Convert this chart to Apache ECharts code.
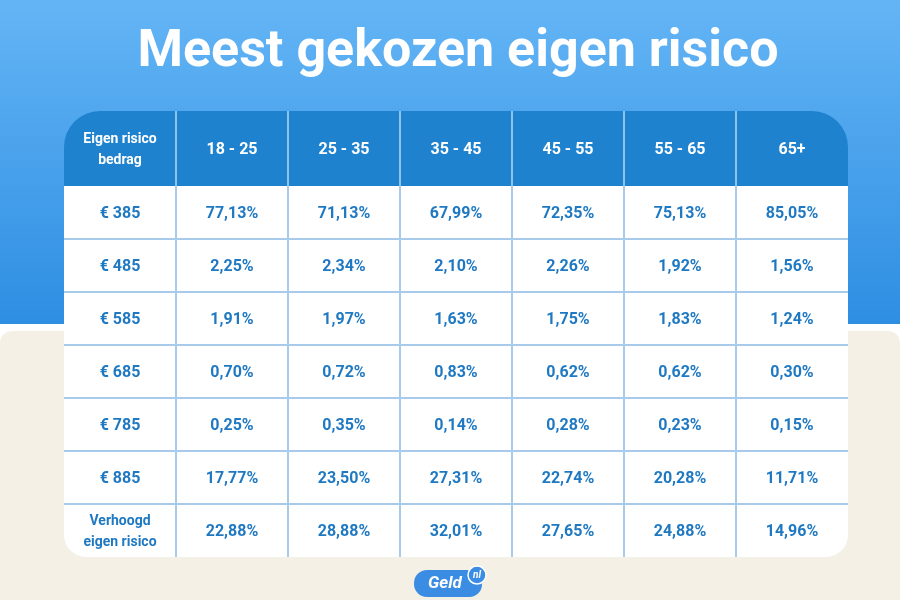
<!DOCTYPE html>
<html><head><meta charset="utf-8">
<script src="https://cdn.jsdelivr.net/npm/echarts@6/dist/echarts.min.js"></script>
<style>html,body{margin:0;padding:0;background:#fff}#c{width:900px;height:600px}</style>
</head><body><div id="c"></div>
<script>
const title = 'Meest gekozen eigen risico';
const cornerHeader = 'Eigen risico\nbedrag';
const ageGroups = ['18 - 25', '25 - 35', '35 - 45', '45 - 55', '55 - 65', '65+'];
const rowLabels = ['€ 385', '€ 485', '€ 585', '€ 685', '€ 785', '€ 885', 'Verhoogd\neigen risico'];
const v18_25 = [77.13, 2.25, 1.91, 0.70, 0.25, 17.77, 22.88];
const v25_35 = [71.13, 2.34, 1.97, 0.72, 0.35, 23.50, 28.88];
const v35_45 = [67.99, 2.10, 1.63, 0.83, 0.14, 27.31, 32.01];
const v45_55 = [72.35, 2.26, 1.75, 0.62, 0.28, 22.74, 27.65];
const v55_65 = [75.13, 1.92, 1.83, 0.62, 0.23, 20.28, 24.88];
const v65 = [85.05, 1.56, 1.24, 0.30, 0.15, 11.71, 14.96];
const columns = [v18_25, v25_35, v35_45, v45_55, v55_65, v65];

const FONT = 'Roboto, "Noto Sans", sans-serif';
const colCats = ['', ...ageGroups];
const fmt = v => v.toFixed(2).replace('.', ',') + '%';

const headerData = colCats.map((c, i) => [i, 0, i === 0 ? cornerHeader : c]);
const bodyData = [];
rowLabels.forEach((lab, r) => {
  bodyData.push([0, r, lab]);
  columns.forEach((col, c) => bodyData.push([c + 1, r, fmt(col[r])]));
});
const nCols = colCats.length, nRows = rowLabels.length;

function cellRender(isHeader) {
  return function (params, api) {
    const c = api.value(0), r = api.value(1);
    const txt = (isHeader ? headerData : bodyData)[params.dataIndex][2];
    const ctr = api.coord([c, r]);
    const sz = api.size([1, 1]);
    const x = ctr[0] - sz[0] / 2, y = ctr[1] - sz[1] / 2, w = sz[0], h = sz[1];
    let rr = [0, 0, 0, 0];
    if (isHeader) {
      if (c === 0) rr = [36, 0, 0, 0];
      if (c === nCols - 1) rr = [0, 36, 0, 0];
    } else if (r === nRows - 1) {
      if (c === 0) rr = [0, 0, 0, 22];
      if (c === nCols - 1) rr = [0, 0, 22, 0];
    }
    const children = [{
      type: 'rect', z2: 0,
      shape: { x: x, y: y, width: w, height: h, r: rr },
      style: { fill: isHeader ? '#1F82CE' : '#ffffff' }
    }];
    const lineColor = isHeader ? '#8DC1EE' : '#A8CAEB';
    if (c < nCols - 1) {
      children.push({ type: 'line', z2: 10, shape: { x1: x + w, y1: y, x2: x + w, y2: y + h },
        style: { stroke: lineColor, lineWidth: 2 } });
    }
    if (!isHeader && r < nRows - 1) {
      children.push({ type: 'line', z2: 10, shape: { x1: x, y1: y + h, x2: x + w, y2: y + h },
        style: { stroke: lineColor, lineWidth: 2 } });
    }
    const small = txt.indexOf('\n') >= 0;
    children.push({
      type: 'text', z2: 20,
      style: {
        x: ctr[0], y: ctr[1] + 1, text: txt, align: 'center', verticalAlign: 'middle',
        fill: isHeader ? '#ffffff' : '#1F79C2',
        font: 'bold ' + (small ? 14 : 16) + 'px ' + FONT,
        lineHeight: small ? 21 : 20
      }
    });
    return { type: 'group', children: children };
  };
}

const chart = echarts.init(document.getElementById('c'), null, { renderer: 'canvas' });
chart.setOption({
  animation: false,
  backgroundColor: '#ffffff',
  graphic: [
    { type: 'rect', z: -10, shape: { x: 0, y: 0, width: 900, height: 324 },
      style: { fill: new echarts.graphic.LinearGradient(0, 0, 0, 1, [
        { offset: 0, color: '#64B5F5' }, { offset: 1, color: '#2E8EE2' }]) } },
    { type: 'rect', z: -10, shape: { x: 0, y: 331, width: 900, height: 269, r: [12, 12, 0, 0] },
      style: { fill: '#F5F0E5' } },
    { type: 'text', z: 5, style: { x: 458, y: 53, text: title, align: 'center', verticalAlign: 'middle',
      fill: '#ffffff', font: 'bold 52px ' + FONT } },
    { type: 'group', z: 5, children: [
      { type: 'rect', shape: { x: 414, y: 570, width: 68, height: 27, r: [13, 15, 13, 13] },
        style: { fill: '#3A8DE2' } },
      { type: 'text', style: { x: 445, y: 584, text: 'Geld', align: 'center', verticalAlign: 'middle',
        fill: '#ffffff', font: 'italic bold 17px ' + FONT } },
      { type: 'circle', shape: { cx: 477, cy: 575, r: 9 }, style: { fill: '#3A8DE2', stroke: '#ffffff', lineWidth: 1.5 } },
      { type: 'text', style: { x: 477, y: 575, text: 'nl', align: 'center', verticalAlign: 'middle',
        fill: '#ffffff', font: 'italic bold 10px ' + FONT } }
    ] }
  ],
  grid: [
    { left: 64, top: 111, width: 784, height: 75 },
    { left: 64, top: 186, width: 784, height: 371 }
  ],
  xAxis: [
    { gridIndex: 0, type: 'category', data: colCats, show: false },
    { gridIndex: 1, type: 'category', data: colCats, show: false }
  ],
  yAxis: [
    { gridIndex: 0, type: 'category', data: ['h'], show: false },
    { gridIndex: 1, type: 'category', data: rowLabels, inverse: true, show: false }
  ],
  series: [
    { type: 'custom', xAxisIndex: 0, yAxisIndex: 0, data: headerData, renderItem: cellRender(true), silent: true },
    { type: 'custom', xAxisIndex: 1, yAxisIndex: 1, data: bodyData, renderItem: cellRender(false), silent: true }
  ]
});
</script></body></html>
